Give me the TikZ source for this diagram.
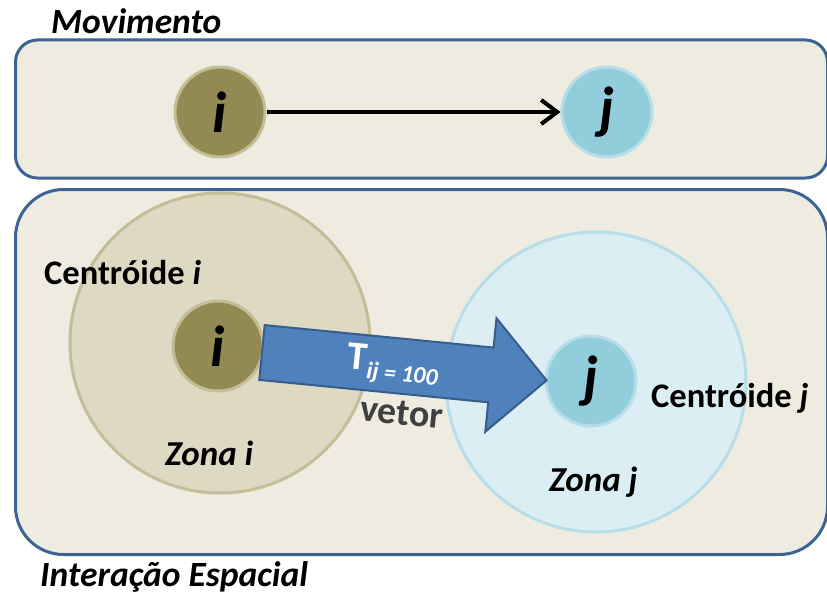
\documentclass[tikz,border=0pt]{standalone}
\usepackage{fontspec}
\setmainfont{Carlito}
\usetikzlibrary{arrows.meta}
\definecolor{boxfill}{HTML}{EEECE1}
\definecolor{boxline}{HTML}{3B6494}
\definecolor{ifill}{HTML}{938953}
\definecolor{iline}{HTML}{C4BD97}
\definecolor{jfill}{HTML}{92CDDC}
\definecolor{jline}{HTML}{B7DEE8}
\definecolor{zifill}{HTML}{DDD9C3}
\definecolor{zjfill}{HTML}{DBEEF3}
\definecolor{arrfill}{HTML}{4F81BD}
\definecolor{arrline}{HTML}{385D8A}
\definecolor{vetorcol}{HTML}{404040}
\tikzset{
  panel/.style={draw=boxline, fill=boxfill, line width=3pt, anchor=north west, inner sep=0pt},
  cent/.style={circle, line width=3pt, minimum size=90pt, inner sep=0pt, font=\fontsize{58}{64}\selectfont\bfseries\itshape},
  centi/.style={cent, draw=iline, fill=ifill},
  centj/.style={cent, draw=jline, fill=jfill},
  zone/.style={circle, line width=3pt, minimum size=300pt, inner sep=0pt},
  title/.style={font=\fontsize{35.5}{42}\selectfont\bfseries\itshape, inner sep=0pt},
  lbl/.style={font=\fontsize{34.5}{41}\selectfont\bfseries, inner sep=0pt},
  zlbl/.style={font=\fontsize{35}{42}\selectfont\bfseries\itshape, inner sep=0pt},
}
\begin{document}
\begin{tikzpicture}[x=1pt,y=-1pt]
\useasboundingbox (0,0) rectangle (827,594);
\fill[white] (0,0) rectangle (827,594);
% panels
\node[panel, rounded corners=22pt, minimum width=812pt, minimum height=138pt] (mov) at (14,38.5) {};
\node[panel, rounded corners=48pt, minimum width=812pt, minimum height=365pt] (int) at (14,188) {};
% top row
\node[centi] (ti) at (220,112) {i};
\node[centj] (tj) at (607,112) {j};
\draw[line width=4pt, -{Straight Barb[length=16pt,width=24pt,line width=4pt]}] (ti) -- (tj);
% zones
\node[zone, draw=iline, fill=zifill] (zi) at (220,343) {};
\node[zone, draw=jline, fill=zjfill] (zj) at (596,382) {};
\node[centi] (ci) at (218,346) {i};
\node[centj] (cj) at (591,381) {j};
% blue arrow
\coordinate (a1) at (264.7,325.1);
\coordinate (a2) at (493.6,347.6);
\coordinate (a3) at (496.5,318.2);
\coordinate (a4) at (546.6,380.4);
\coordinate (a5) at (485.3,431.7);
\coordinate (a6) at (488.2,402.3);
\coordinate (a7) at (259.3,379.9);
\draw[fill=arrfill, draw=arrline, line width=2pt, line join=miter] (a1) -- (a2) -- (a3) -- (a4) -- (a5) -- (a6) -- (a7) -- cycle;
\node[white, rotate=-5.6, inner sep=0pt] (tij) at (393,366) {\fontsize{40}{44}\selectfont\bfseries T\raisebox{-8pt}{\fontsize{24}{28}\selectfont\bfseries\itshape ij = 100}};
\node[vetorcol, rotate=-5.6, font=\fontsize{38}{44}\selectfont\bfseries, inner sep=0pt] (vet) at (402,413) {vetor};
% labels
\node[title, anchor=west] (movl) at (51,21) {Movimento};
\node[title, anchor=west] (intl) at (40,577) {Interação Espacial};
\node[lbl, anchor=west] (cil) at (44,273) {Centróide \textit{i}};
\node[lbl, anchor=west] (cjl) at (651,398) {Centróide \textit{j}};
\node[zlbl, anchor=west] (zil) at (165,453) {Zona i};
\node[zlbl, anchor=west] (zjl) at (549,482) {Zona j};
\end{tikzpicture}
\end{document}
